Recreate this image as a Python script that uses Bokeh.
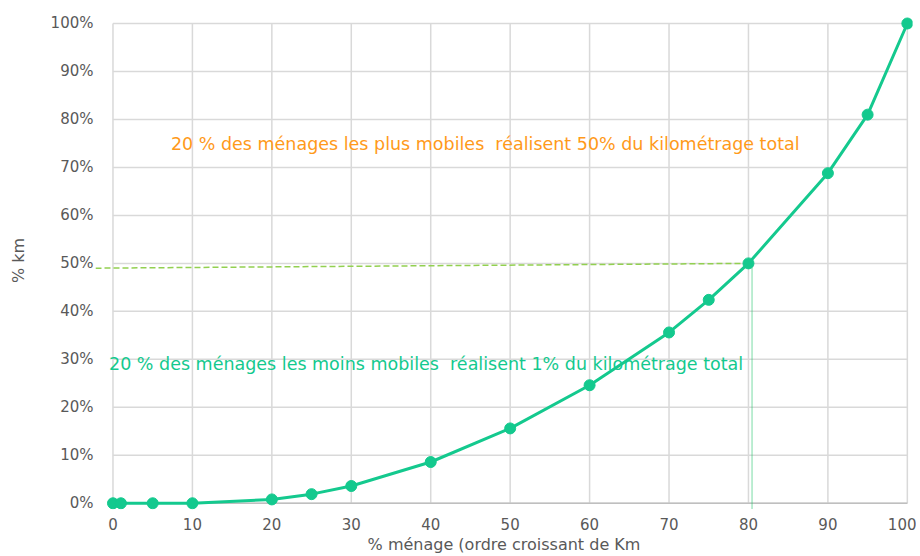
from bokeh.plotting import figure
from bokeh.models import FixedTicker, NumeralTickFormatter, Range1d
from bokeh.core.properties import value
from bokeh.embed import file_html
from bokeh.resources import INLINE

# data
menage_pct = [0, 1, 5, 10, 20, 25, 30, 40, 50, 60, 70, 75, 80, 90, 95, 100]
km_share = [0.0, 0.0, 0.0, 0.0, 0.008, 0.019, 0.036, 0.086, 0.156, 0.246, 0.356, 0.424, 0.50, 0.688, 0.81, 1.0]
x_ticks = [0, 10, 20, 30, 40, 50, 60, 70, 80, 90, 100]
y_ticks = [0.0, 0.1, 0.2, 0.3, 0.4, 0.5, 0.6, 0.7, 0.8, 0.9, 1.0]
ref_h_x = [-2.2, 80]
ref_h_y = [0.49, 0.50]
ref_v_x = [80.45, 80.45]
ref_v_y = [0.50, -0.0125]
note_high = "20 % des ménages les plus mobiles\u00a0 réalisent 50% du kilométrage total"
note_low = "20 % des ménages les moins mobiles\u00a0 réalisent 1% du kilométrage total"

FONT = "DejaVu Sans"
LINE_COL = "#14C98E"

p = figure(width=916, height=556, output_backend="svg", toolbar_location=None,
           x_range=Range1d(-2.2, 100.65), y_range=Range1d(-0.013, 1.025),
           min_border_left=95, min_border_right=4, min_border_top=11, min_border_bottom=46)
p.outline_line_color = None
p.xgrid.visible = False
p.ygrid.visible = False

# gridlines
p.segment(x0=x_ticks, y0=[0] * len(x_ticks), x1=x_ticks, y1=[1] * len(x_ticks),
          line_color="#D9D9D9", line_width=1.5)
p.segment(x0=[0] * len(y_ticks), y0=y_ticks, x1=[100] * len(y_ticks), y1=y_ticks,
          line_color="#D9D9D9", line_width=1.5)
# baseline
p.segment(x0=[0], y0=[0], x1=[100], y1=[0], line_color="#BFBFBF", line_width=1.5)

# reference lines
p.line(ref_h_x, ref_h_y, line_color="#92D050", line_width=1.5, line_dash="6 3")
p.line(ref_v_x, ref_v_y, line_color="#22C46A", line_width=1.2, line_dash="1 1")

# curve
p.line(menage_pct, km_share, line_color=LINE_COL, line_width=3)
p.scatter(menage_pct, km_share, size=11, fill_color=LINE_COL, line_color=LINE_COL)

# annotations
p.text(x=[7.3], y=[0.748], text=[note_high], text_color="#FF9A1A",
       text_font=value(FONT), text_font_size="17.5px", text_baseline="middle", text_align="left")
p.text(x=[-0.5], y=[0.29], text=[note_low], text_color="#14C98E",
       text_font=value(FONT), text_font_size="17.5px", text_baseline="middle", text_align="left")

# axes
for ax in (p.xaxis[0], p.yaxis[0]):
    ax.axis_line_color = None
    ax.major_tick_line_color = None
    ax.minor_tick_line_color = None
    ax.major_label_text_font = FONT
    ax.major_label_text_font_size = "15px"
    ax.major_label_text_color = "#595959"
    ax.axis_label_text_font = FONT
    ax.axis_label_text_font_size = "16px"
    ax.axis_label_text_color = "#595959"
    ax.axis_label_text_font_style = "normal"

p.xaxis.ticker = FixedTicker(ticks=x_ticks)
p.yaxis.ticker = FixedTicker(ticks=y_ticks)
p.yaxis.formatter = NumeralTickFormatter(format="0%")
p.xaxis.major_label_standoff = 2
p.yaxis.major_label_standoff = -4
p.xaxis.axis_label = "% ménage (ordre croissant de Km"
p.yaxis.axis_label = "% km"
p.xaxis.axis_label_standoff = 2
p.yaxis.axis_label_standoff = 20

open("out.html", "w").write(file_html(p, INLINE))
